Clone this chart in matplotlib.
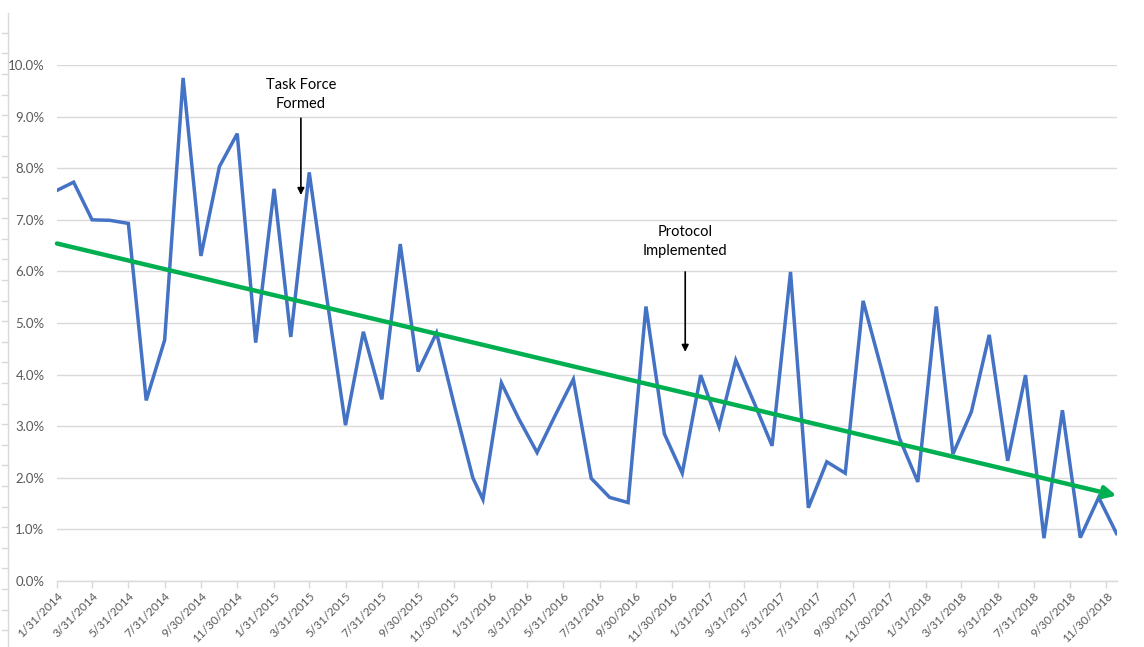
import numpy as np
import pandas as pd
import matplotlib
matplotlib.use("Agg")
import matplotlib.pyplot as plt
import matplotlib.dates as mdates
from matplotlib.lines import Line2D

plt.rcParams['font.family'] = ['Lato', 'DejaVu Sans']

# monthly rates (%) - 2014/2015 are month-end points, 2016-2018 mid-month
dates_early = pd.date_range('2014-01-31', '2015-12-31', freq='ME')
dates_late = pd.date_range('2016-01-01', '2018-12-01', freq='MS') + pd.Timedelta(days=16)
dates = dates_early.append(dates_late)

rate_2014 = [7.57, 7.73, 7.00, 6.99, 6.93, 3.50, 4.67, 9.75, 6.30, 8.03, 8.67, 4.62]
rate_2015 = [7.60, 4.73, 7.92, 5.45, 3.02, 4.83, 3.52, 6.53, 4.06, 4.81, 3.40, 2.00]
rate_2016 = [1.58, 3.84, 3.15, 2.49, 3.20, 3.91, 1.99, 1.62, 1.52, 5.32, 2.85, 2.09]
rate_2017 = [3.99, 2.99, 4.28, 3.45, 2.62, 5.99, 1.42, 2.31, 2.09, 5.43, 4.10, 2.77]
rate_2018 = [1.92, 5.32, 2.46, 3.28, 4.77, 2.33, 3.99, 0.83, 3.31, 0.84, 1.62, 0.92]
rates = np.array(rate_2014 + rate_2015 + rate_2016 + rate_2017 + rate_2018) / 100

tick_dates = pd.date_range('2014-01-31', '2018-11-30', freq='2ME')
tick_labels = [f"{d.month}/{d.day}/{d.year}" for d in tick_dates]

notes = [("Task Force\nFormed", '2015-03-17', 0.0943, 0.0897, 0.0748),
         ("Protocol\nImplemented", '2016-12-22', 0.0658, 0.0599, 0.0444)]

blue = '#4472C4'
green = '#00B050'
grey = '#595959'
grid = '#D9D9D9'

fig = plt.figure(figsize=(11.44, 6.47), dpi=100)
ax = fig.add_axes([0.0498, 0.102, 0.9262, 0.7975])

x = mdates.date2num(dates)
ax.plot(x, rates, color=blue, lw=2.5, solid_joinstyle='miter', zorder=3)

# linear trendline with arrow head
k, b = np.polyfit(x, rates, 1)
ax.annotate('', xy=(x[-1], k * x[-1] + b), xytext=(x[0], k * x[0] + b),
            arrowprops=dict(arrowstyle='-|>', color=green, lw=3.2,
                            mutation_scale=18, shrinkA=0, shrinkB=0),
            zorder=4)

for txt, d, ty, y0, y1 in notes:
    xd = mdates.date2num(pd.Timestamp(d))
    ax.text(xd, ty, txt, ha='center', va='center', fontsize=10.5,
            color='black', linespacing=1.45, zorder=5)
    ax.annotate('', xy=(xd, y1), xytext=(xd, y0),
                arrowprops=dict(arrowstyle='-|>', color='black', lw=1.2,
                                mutation_scale=10, shrinkA=0, shrinkB=0),
                zorder=5)

ax.set_xlim(x[0], x[-1])
ax.set_ylim(0, 0.10)
ax.set_yticks(np.arange(0, 0.101, 0.01))
ax.set_yticklabels([f"{v * 100:.1f}%" for v in np.arange(0, 0.101, 0.01)])
ax.set_xticks(mdates.date2num(tick_dates))
ax.set_xticklabels(tick_labels, rotation=45, ha='right', rotation_mode='anchor')

ax.grid(axis='y', color=grid, lw=1.0)
ax.set_axisbelow(True)
for s in ['top', 'right', 'left']:
    ax.spines[s].set_visible(False)
ax.spines['bottom'].set_color(grid)
ax.spines['bottom'].set_linewidth(1.0)
ax.tick_params(axis='y', length=0, pad=9, labelsize=9.5, labelcolor=grey)
ax.tick_params(axis='x', length=5, width=1.0, color=grid, pad=2,
               labelsize=8.5, labelcolor=grey)

# ruler-like border on the far left of the screenshot
W, H = 1144, 647
fig.add_artist(Line2D([8 / W, 8 / W], [0, 1 - 13 / H], color=grid, lw=1.0,
                      transform=fig.transFigure))
for yp in np.arange(32.7, H, 20.6):
    fig.add_artist(Line2D([2 / W, 8 / W], [1 - yp / H, 1 - yp / H], color=grid,
                          lw=1.0, transform=fig.transFigure))

fig.savefig('out.png', dpi=100)
